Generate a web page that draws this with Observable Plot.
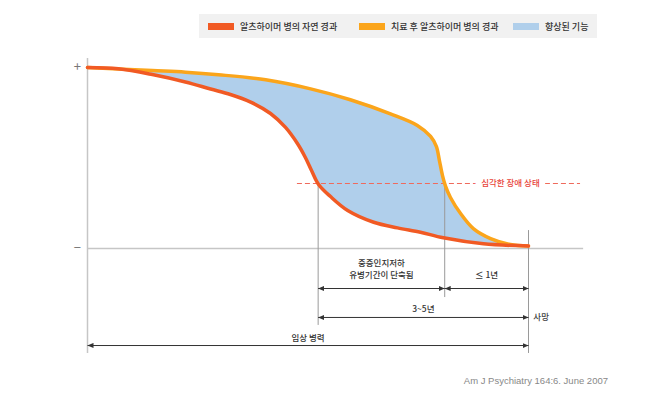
<!DOCTYPE html>
<html><head><meta charset="utf-8">
<script src="https://cdn.jsdelivr.net/npm/d3@7"></script>
<script src="https://cdn.jsdelivr.net/npm/@observablehq/plot@0.6"></script>
<style>
body{margin:0;background:#fff;font-family:"Noto Sans CJK KR","Noto Sans",sans-serif;}
#legend{position:relative;height:45px;width:657px;}
#legend .box{position:absolute;left:199px;top:14px;width:398px;height:24px;background:#f1f1f1;}
.item{position:absolute;top:0;height:24px;display:flex;align-items:center;font-size:9px;font-weight:500;color:#333;white-space:nowrap;}
.sw{width:26px;height:7px;margin-right:6px;}
#caption{width:608px;text-align:right;font:9.5px "Liberation Sans",Arial,sans-serif;color:#888;line-height:12px;}
</style></head><body>
<div id="legend"><div class="box"></div></div>
<div id="chart"></div>
<div id="caption"></div>
<script>
// ---- data (time: 0 = onset, 100 = death; function: 0 = "−", 100 = "+") ----
const seriesNames = ["알츠하이머 병의 자연 경과", "치료 후 알츠하이머 병의 경과", "향상된 기능"];
const seriesColors = ["#f15a24", "#fba51b", "#b0cfeb"];

const timeNatural = [0, 7.0, 14.7, 22.2, 27.9, 32.4, 37.0, 41.5, 44.9, 47.6, 49.4, 50.8, 52.4, 55.1, 59.0, 64.9, 70.3, 75.5, 80.7, 89.8, 100];
const funcNatural = [100, 99.3, 96.1, 92.0, 88.1, 85.1, 80.9, 74.6, 66.9, 58.0, 50.3, 43.1, 35.4, 28.7, 21.0, 14.5, 11.4, 9.0, 5.9, 2.6, 1.4];

const timeTreated = [0, 14.7, 22.2, 29.7, 40.4, 50.6, 59.6, 68.7, 74.8, 77.8, 79.1, 79.8, 80.5, 81.2, 82.3, 84.6, 87.5, 91.4, 95.9, 100];
const funcTreated = [100, 98.3, 97.4, 96.0, 93.2, 88.2, 82.2, 74.4, 68.0, 61.9, 56.4, 48.6, 40.3, 34.3, 28.2, 19.3, 11.0, 5.5, 2.2, 1.4];

const severeLevel = 35.9;
const severeLabel = "심각한 장애 상태";
const milestoneTimes = [52.3, 81.0, 100]; // natural severe, treated severe, death
const periodLabels = ["중증인지저하\n유병기간이 단축됨", "≤ 1년", "3~5년", "사망", "임상 병력"];
const axisLabels = ["+", "−"];
const citation = "Am J Psychiatry 164:6. June 2007";

// ---- build tables ----
const natural = timeNatural.map((t, i) => ({t, f: funcNatural[i]}));
const treated = timeTreated.map((t, i) => ({t, f: funcTreated[i]}));
const polygon = treated.concat(natural.slice(0, -1).reverse());

const [tNat, tTr, tDeath] = milestoneTimes;
const rowA = -22.1, rowB = -38.1, rowC = -53.6, bottom = -58;

const arrows = [
  {x1: tNat, x2: tTr, y: rowA},
  {x1: tTr, x2: tDeath, y: rowA},
  {x1: tNat, x2: tDeath, y: rowB},
  {x1: 0, x2: tDeath, y: rowC}
];
const guides = [
  {x: tNat, y1: severeLevel, y2: -42.5},
  {x: tTr, y1: severeLevel, y2: -27.1},
  {x: tDeath, y1: 9.9, y2: bottom}
];
const texts = [
  {x: (tNat + tTr) / 2, y: -10.9, text: periodLabels[0], anchor: "middle"},
  {x: (tTr + tDeath) / 2, y: -14.1, text: periodLabels[1], anchor: "middle"},
  {x: (tNat + tDeath) / 2, y: -32.9, text: periodLabels[2], anchor: "middle"},
  {x: tDeath + 1.1, y: rowB, text: periodLabels[3], anchor: "start"},
  {x: tDeath / 2, y: -49.2, text: periodLabels[4], anchor: "middle"}
];

function arrowHead(color) {
  const m = d3.create("svg:marker")
    .attr("viewBox", "-6 -3 6 6")
    .attr("markerUnits", "userSpaceOnUse")
    .attr("markerWidth", 6).attr("markerHeight", 6)
    .attr("refX", 0).attr("refY", 0)
    .attr("orient", "auto-start-reverse")
    .attr("fill", color).attr("stroke", "none");
  m.append("path").attr("d", "M-6,-2.6L0,0L-6,2.6Z");
  return m.node();
}

// ---- legend ----
const box = document.querySelector("#legend .box");
const lefts = [9, 160, 314];
seriesNames.forEach((name, i) => {
  const it = document.createElement("div");
  it.className = "item";
  it.style.left = lefts[i] + "px";
  it.innerHTML = `<span class="sw" style="background:${seriesColors[i]}"></span><span>${name}</span>`;
  box.appendChild(it);
});
document.getElementById("caption").textContent = citation;

const font = '"Noto Sans CJK KR","Noto Sans",sans-serif';
const chart = Plot.plot({
  width: 657,
  height: 330,
  margin: 0,
  x: {domain: [0, 100], range: [87, 528], axis: null},
  y: {domain: [0, 100], range: [203, 22], axis: null},
  style: {fontFamily: font, background: "transparent", overflow: "visible"},
  marks: [
    Plot.line(polygon, {x: "t", y: "f", fill: seriesColors[2], stroke: "none", curve: "catmull-rom"}),
    Plot.ruleY([0], {x1: 0, x2: 112.5, stroke: "#c6c6c6", strokeWidth: 1.5}),
    Plot.ruleX([0], {y1: bottom, y2: 105, stroke: "#c6c6c6", strokeWidth: 1.5}),
    Plot.ruleY([severeLevel], {x1: 47.6, x2: 111.8, stroke: "#ef6a5c", strokeWidth: 1.2, strokeDasharray: "5,3"}),
    Plot.text([severeLabel], {x: 95.9, y: severeLevel, text: d => d, fill: "#e8443a", stroke: "white", strokeWidth: 12, paintOrder: "stroke", fontSize: 8.5, fontWeight: 500}),
    Plot.ruleX(guides, {x: "x", y1: "y1", y2: "y2", stroke: "#9a9a9a", strokeWidth: 1}),
    Plot.line(treated, {x: "t", y: "f", stroke: seriesColors[1], strokeWidth: 3.5, curve: "catmull-rom", strokeLinecap: "round"}),
    Plot.line(natural, {x: "t", y: "f", stroke: seriesColors[0], strokeWidth: 3.5, curve: "catmull-rom", strokeLinecap: "round"}),
    Plot.link(arrows, {x1: "x1", x2: "x2", y1: "y", y2: "y", stroke: "#333", strokeWidth: 1, markerStart: arrowHead, markerEnd: arrowHead}),
    Plot.text(texts.filter(d => d.anchor === "middle"), {x: "x", y: "y", text: "text", fill: "#333", fontSize: 8.5, fontWeight: 500, lineHeight: 1.35}),
    Plot.text(texts.filter(d => d.anchor === "start"), {x: "x", y: "y", text: "text", fill: "#444", fontSize: 8.5, fontWeight: 500, textAnchor: "start"}),
    Plot.text(axisLabels, {x: -2.3, y: [100.2, 0.6], text: d => d, fill: "#777", fontSize: 13})
  ]
});
document.getElementById("chart").appendChild(chart);
</script>
</body></html>
